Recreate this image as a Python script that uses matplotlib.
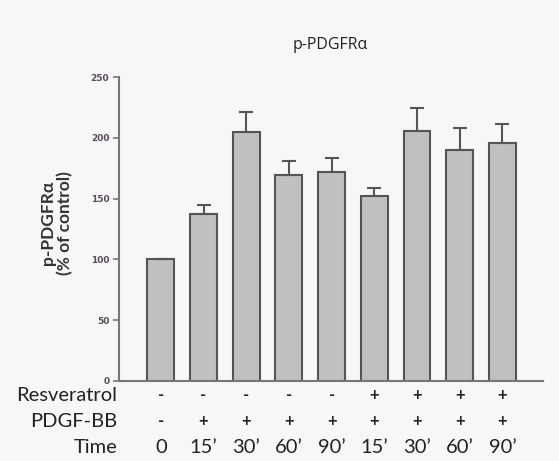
import numpy as np
import matplotlib.pyplot as plt

# values (% of control)
means = [100, 137, 205, 169, 172, 152, 206, 190, 196]
errs = [0, 7.5, 16.5, 12, 11.5, 6.5, 18.5, 18, 15]
resveratrol = ["-", "-", "-", "-", "-", "+", "+", "+", "+"]
pdgf_bb = ["-", "+", "+", "+", "+", "+", "+", "+", "+"]
times = ["0", "15\u2019", "30\u2019", "60\u2019", "90\u2019", "15\u2019", "30\u2019", "60\u2019", "90\u2019"]
row_names = ["Resveratrol", "PDGF-BB", "Time"]

bg = "#f7f7f7"
fig = plt.figure(figsize=(5.59, 4.61), dpi=100, facecolor=bg)
ax = fig.add_axes([119 / 559, 1 - 381 / 461, (543 - 119) / 559, (381 - 77) / 461])
ax.set_facecolor(bg)

x = np.arange(len(means))
ax.bar(x, means, width=0.63, color="#c0c0c0", edgecolor="#555555", linewidth=1.5, zorder=2)
ax.errorbar(x, means, yerr=[np.zeros(len(errs)), errs], fmt="none",
            ecolor="#555555", elinewidth=1.5, capsize=5, capthick=1.5, zorder=3)

ax.set_xlim(-0.98, 8.95)
ax.set_ylim(0, 250)
ax.set_yticks([0, 50, 100, 150, 200, 250])
ax.set_xticks([])
for s in ["top", "right"]:
    ax.spines[s].set_visible(False)
for s in ["left", "bottom"]:
    ax.spines[s].set_color("#777777")
    ax.spines[s].set_linewidth(1.5)
ax.tick_params(axis="y", length=4, width=1.2, color="#777777", labelsize=6.5,
               labelcolor="#5a4a5a", pad=3)
for lab in ax.get_yticklabels():
    lab.set_fontweight("bold")

ax.set_ylabel("p-PDGFR\u03b1\n(% of control)", fontsize=12.5, fontweight="bold",
              color="#333333", linespacing=1.1, family=["Lato", "DejaVu Sans"])
ax.yaxis.set_label_coords(-0.108, 0.52)
fig.text(330 / 559, 1 - 45 / 461, "p-PDGFR\u03b1", ha="center", va="center",
         fontsize=11.5, color="#222222", family="Open Sans")

# condition table under the axis
rows = [resveratrol, pdgf_bb, times]
row_y = [395, 421, 447]
for name, vals, py in zip(row_names, rows, row_y):
    yy = 1 - py / 461
    fig.text(117 / 559, yy, name, ha="right", va="center", fontsize=14.5,
             color="#222222", family="Lato")
    for xi, v in zip(x, vals):
        xd = ax.transData.transform((xi, 0))[0] / fig.bbox.width
        pm = v in "+-"
        fig.text(xd, yy, v, ha="center", va="center", fontsize=12 if pm else 14.5,
                 color="#222222", family="Lato",
                 fontweight="bold" if pm else "normal")

fig.savefig("out.png", dpi=100, facecolor=bg)
